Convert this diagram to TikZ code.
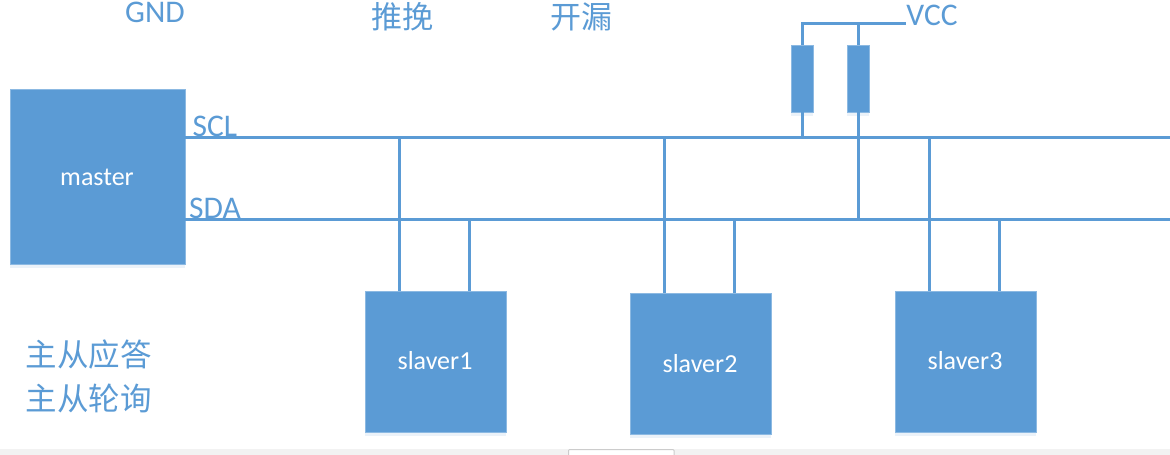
\documentclass[tikz,border=0pt]{standalone}
\usepackage{fontspec}
\setmainfont{Carlito}
\newfontfamily\cjk{Noto Sans CJK SC}
\usetikzlibrary{shadows}
\definecolor{blueb}{HTML}{5B9BD5}
\tikzset{
  box/.style={fill=blueb,draw=blueb!70!white,line width=0.6pt,inner sep=0pt,text=white,
    drop shadow={shadow xshift=0pt,shadow yshift=-4pt,opacity=.12,fill=blueb}},
  res/.style={box,minimum width=22pt,minimum height=67pt},
  wire/.style={draw=blueb,line width=3pt},
  lab/.style={text=blueb,inner sep=0pt,font=\fontsize{31.5}{31.5}\selectfont},
  cjklab/.style={text=blueb,inner sep=0pt,font=\cjk\fontsize{31}{31}\selectfont},
  cjklabb/.style={text=blueb,inner sep=0pt,font=\cjk\fontsize{31.5}{31.5}\selectfont},
  boxtext/.style={text=white,inner sep=0pt,font=\fontsize{26}{26}\selectfont}
}
\begin{document}
\begin{tikzpicture}[x=1pt,y=-1pt]
\useasboundingbox (0,0) rectangle (1170,455);
\fill[white] (0,0) rectangle (1170,455);
% bottom strip
\fill[black!5] (0,449) rectangle (1170,455);
\draw[fill=white,draw=black!20,line width=1pt,rounded corners=1pt] (568.5,456) -- (568.5,449.5) -- (674,449.5) -- (674,456);
% junctions and free ends
\coordinate (sclend) at (1170,137);
\coordinate (sdaend) at (1170,219);
\coordinate (vcc1) at (802,23);
\coordinate (vcc2) at (858,23);
\coordinate (vccend) at (906,23);
\coordinate (r1b) at (802,137);
\coordinate (r2b) at (858,219);
\coordinate (scla) at (399,137);
\coordinate (sclb) at (664,137);
\coordinate (sclc) at (929,137);
\coordinate (sdaa) at (469,219);
\coordinate (sdab) at (734,219);
\coordinate (sdac) at (999,219);
% boxes
\node[box,minimum width=175pt,minimum height=175pt] (master) at (97.5,176.5) {};
\node[box,minimum width=141pt,minimum height=141pt] (s1) at (435.5,361.5) {};
\node[box,minimum width=141pt,minimum height=141pt] (s2) at (700.5,363.5) {};
\node[box,minimum width=141pt,minimum height=141pt] (s3) at (965.5,361.5) {};
\node[res] (r1) at (802,78.5) {};
\node[res] (r2) at (858,78.5) {};
% wires
\path[wire] (master.east |- sclend) -- (sclend);
\path[wire] (master.east |- sdaend) -- (sdaend);
\path[wire] (scla) -- (scla |- s1.north);
\path[wire] (sdaa) -- (sdaa |- s1.north);
\path[wire] (sclb) -- (sclb |- s2.north);
\path[wire] (sdab) -- (sdab |- s2.north);
\path[wire] (sclc) -- (sclc |- s3.north);
\path[wire] (sdac) -- (sdac |- s3.north);
\path[wire] (r1.north) -- (vcc1) -- (vccend);
\path[wire] (r2.north) -- (vcc2);
\path[wire] (r1.south) -- (r1b);
\path[wire] (r2.south) -- (r2b);
% box texts
\node[boxtext] (tm) at (97,177) {master};
\node[boxtext] (t1) at (435,361) {slaver1};
\node[boxtext] (t2) at (700,364) {slaver2};
\node[boxtext] (t3) at (965,361) {slaver3};
% labels
\node[lab] (gnd) at (155,12) {GND};
\node[lab] (scl) at (215,126) {SCL};
\node[lab] (sda) at (215,208) {SDA};
\node[lab] (vcc) at (932,15) {VCC};
\node[cjklab] (tw) at (402,17) {推挽};
\node[cjklab] (kl) at (581,17) {开漏};
\node[cjklabb] (y1) at (88.5,355) {主从应答};
\node[cjklabb] (y2) at (88.5,398) {主从轮询};
\end{tikzpicture}
\end{document}
